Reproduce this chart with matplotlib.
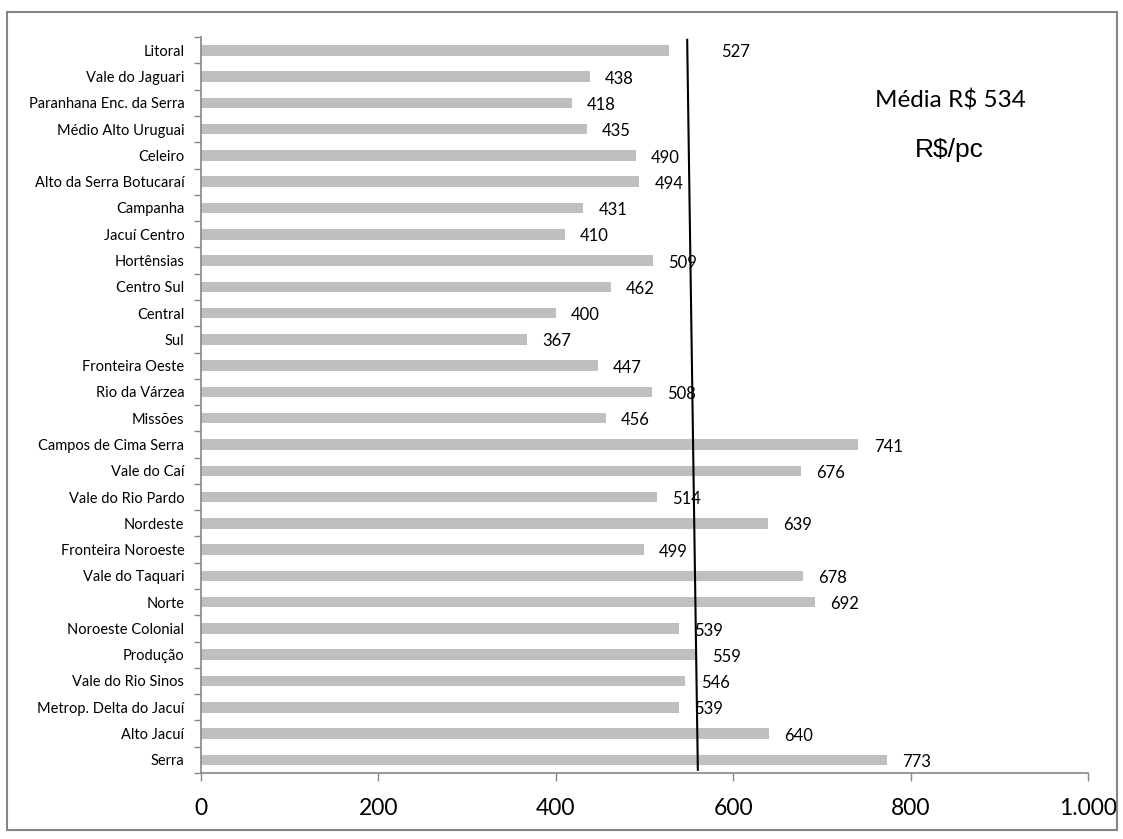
import matplotlib
matplotlib.use('Agg')
import matplotlib.pyplot as plt
from matplotlib.patches import Rectangle
import numpy as np

# regioes de cima para baixo, como no grafico
regioes = ['Litoral', 'Vale do Jaguari', 'Paranhana Enc. da Serra', 'Médio Alto Uruguai',
           'Celeiro', 'Alto da Serra Botucaraí', 'Campanha', 'Jacuí Centro', 'Hortênsias',
           'Centro Sul', 'Central', 'Sul', 'Fronteira Oeste', 'Rio da Várzea', 'Missões',
           'Campos de Cima Serra', 'Vale do Caí', 'Vale do Rio Pardo', 'Nordeste',
           'Fronteira Noroeste', 'Vale do Taquari', 'Norte', 'Noroeste Colonial', 'Produção',
           'Vale do Rio Sinos', 'Metrop. Delta do Jacuí', 'Alto Jacuí', 'Serra']
valores = [527, 438, 418, 435, 490, 494, 431, 410, 509, 462, 400, 367, 447, 508, 456,
           741, 676, 514, 639, 499, 678, 692, 539, 559, 546, 539, 640, 773]
xticks = [0, 200, 400, 600, 800, 1000]
xtick_labels = ['0', '200', '400', '600', '800', '1.000']
# linha da media (desenhada levemente inclinada no original)
linha_x = [548, 560]

plt.rcParams['font.family'] = ['Lato', 'DejaVu Sans']

fig = plt.figure(figsize=(11.23, 8.39), dpi=100)
ax = fig.add_axes([0.179, 0.0787, 0.79, 0.877])

n = len(regioes)
ypos = np.arange(n)[::-1]
ax.barh(ypos, valores, height=0.4, color='#BFBFBF')

for i, (y, v) in enumerate(zip(ypos, valores)):
    dx = 38 if i == 0 else 11
    ax.annotate(str(v), (v, y), xytext=(dx, -1.5), textcoords='offset points',
                va='center', ha='left', fontsize=12)

ax.plot(linha_x, [27.4, -0.38], color='black', lw=1.5)

ax.set_xlim(0, 1000)
ax.set_ylim(-0.5, n - 0.5)
ax.set_xticks(xticks)
ax.set_xticklabels(xtick_labels, fontsize=16.5)
ax.set_yticks(ypos)
ax.set_yticklabels(regioes, fontsize=10.5)
ax.set_yticks(np.arange(-0.5, n, 1), minor=True)
ax.tick_params(axis='y', which='major', length=0, pad=12)
ax.tick_params(axis='y', which='minor', length=5, color='#868686', width=1)
ax.tick_params(axis='x', length=6, color='#868686', width=1, pad=12)

for s in ['top', 'right']:
    ax.spines[s].set_visible(False)
for s in ['left', 'bottom']:
    ax.spines[s].set_color('#868686')
    ax.spines[s].set_linewidth(1.2)

fig.text(950 / 1123, 1 - 100 / 839, 'Média R$ 534', ha='center', va='center', fontsize=17.5)
fig.text(949 / 1123, 1 - 150 / 839, 'R$/pc', ha='center', va='center', fontsize=19,
         family=['Liberation Sans', 'DejaVu Sans'])

fig.patches.append(Rectangle((7 / 1123, 1 - 830 / 839), 1110 / 1123, 818 / 839,
                             transform=fig.transFigure, fill=False,
                             edgecolor='#868686', lw=1.5))

plt.savefig('out.png', dpi=100)
